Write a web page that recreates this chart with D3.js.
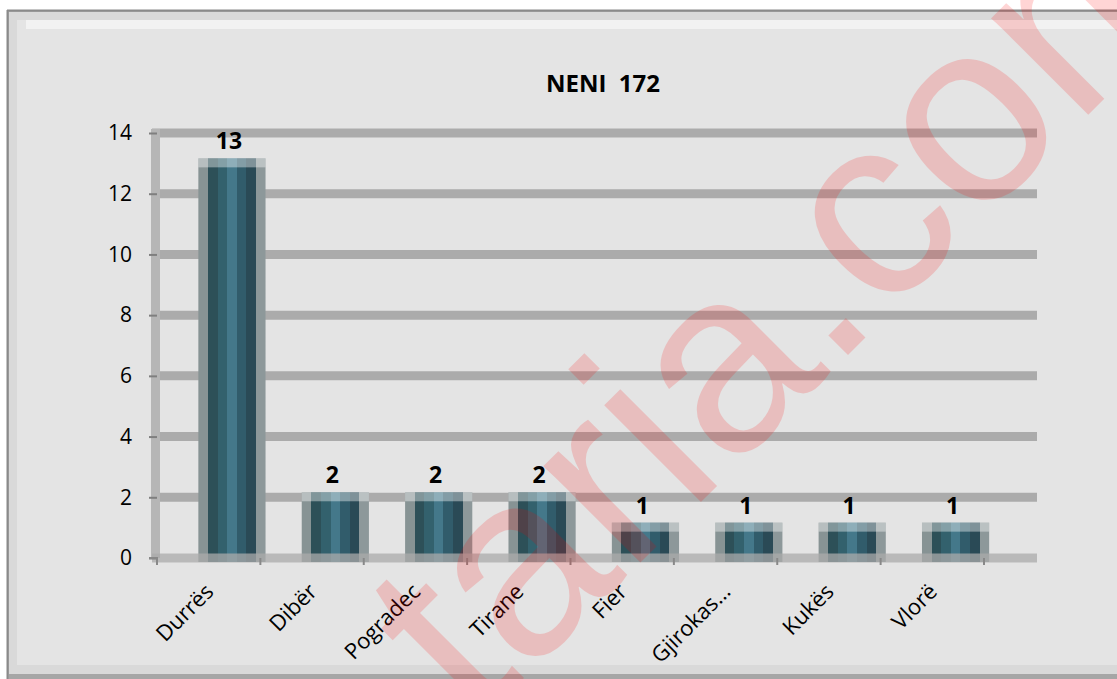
<!DOCTYPE html>
<html>
<head>
<meta charset="utf-8">
<script src="https://cdn.jsdelivr.net/npm/d3@7"></script>
<style>
  body { margin: 0; background: #fff; }
  svg text { font-family: "Open Sans", sans-serif; }
</style>
</head>
<body>
<svg id="chart" width="1117" height="679"></svg>
<script>
// data
const categories = ["Durrës", "Dibër", "Pogradec", "Tirane", "Fier", "Gjirokas…", "Kukës", "Vlorë"];
const values = [13, 2, 2, 2, 1, 1, 1, 1];
const yTicks = [0, 2, 4, 6, 8, 10, 12, 14];
const title = "NENI\u00a0\u00a0172";

const svg = d3.select("#chart");

// frame
svg.append("rect").attr("x", 7).attr("y", 10).attr("width", 1110).attr("height", 669).attr("fill", "#a6a6a6");
svg.append("rect").attr("x", 9).attr("y", 12).attr("width", 1108).attr("height", 662).attr("fill", "#d9d9d9");
svg.append("rect").attr("x", 17).attr("y", 20).attr("width", 1100).attr("height", 645).attr("fill", "#e4e4e4");
svg.append("rect").attr("x", 26).attr("y", 20).attr("width", 1091).attr("height", 9).attr("fill", "#f2f2f2");
svg.append("line").attr("x1", 7).attr("x2", 1117).attr("y1", 10.5).attr("y2", 10.5).attr("stroke", "#8a8a8a").attr("stroke-width", 2);
svg.append("line").attr("x1", 7.5).attr("x2", 7.5).attr("y1", 10).attr("y2", 679).attr("stroke", "#8a8a8a").attr("stroke-width", 2);

// bar gradient (the picture is blocky, 7 columns per bar)
const defs = svg.append("defs");
const grad = defs.append("linearGradient").attr("id", "barGrad");
const cols = ["#879394", "#2d5058", "#33616d", "#44788a", "#315c6b", "#2a4a56", "#8d989a"];
cols.forEach((c, i) => {
    grad.append("stop").attr("offset", i / 7).attr("stop-color", c);
    grad.append("stop").attr("offset", (i + 1) / 7).attr("stop-color", c);
});

const y = d3.scaleLinear().domain([0, 14]).range([558, 133]);
const x = d3.scaleBand().domain(categories).range([157, 984]);
const bw = x.bandwidth();
const barX = d => x(d) + bw * 0.40;
const barW = bw * 0.65;
const barMid = d => barX(d) + barW / 2;

// gridlines
svg.append("g").selectAll("line").data(yTicks.filter(t => t > 0)).join("line")
    .attr("x1", 152).attr("x2", 1037)
    .attr("y1", d => y(d)).attr("y2", d => y(d))
    .attr("stroke", "#ababab").attr("stroke-width", 9);

// y axis band
svg.append("line").attr("x1", 155.5).attr("x2", 155.5)
    .attr("y1", y(14) - 4).attr("y2", y(0))
    .attr("stroke", "#b6b6b6").attr("stroke-width", 9);

// bars
const bars = svg.append("g").selectAll("g").data(values).join("g");
bars.append("rect")
    .attr("x", (d, i) => barX(categories[i]))
    .attr("width", barW)
    .attr("y", d => y(d) - 5)
    .attr("height", d => y(0) - y(d) + 9)
    .attr("fill", "url(#barGrad)");
bars.append("rect")
    .attr("x", (d, i) => barX(categories[i]))
    .attr("width", barW)
    .attr("y", d => y(d) - 5)
    .attr("height", 9)
    .attr("fill", "#fff").attr("opacity", 0.4);

// zero line over the bars
svg.append("line").attr("x1", 152).attr("x2", 1037)
    .attr("y1", y(0)).attr("y2", y(0))
    .attr("stroke", "#ababab").attr("stroke-width", 9).attr("opacity", 0.75);

// y axis ticks and labels
const yAxis = svg.append("g").attr("transform", "translate(157,0)")
    .call(d3.axisLeft(y).tickValues(yTicks).tickSize(8).tickPadding(17));
yAxis.select(".domain").remove();
yAxis.selectAll(".tick line").attr("stroke", "#7f7f7f").attr("stroke-width", 2);
yAxis.selectAll(".tick text").attr("font-size", 21).attr("fill", "#000")
    .style("font-family", "'Open Sans', sans-serif");

// x ticks at band edges
svg.append("g").selectAll("line").data(categories).join("line")
    .attr("x1", d => x(d) + bw).attr("x2", d => x(d) + bw)
    .attr("y1", y(0)).attr("y2", y(0) + 7)
    .attr("stroke", "#888").attr("stroke-width", 2);
svg.append("path").attr("d", `M149,${y(0)}H157V${y(0) + 7}`)
    .attr("fill", "none").attr("stroke", "#888").attr("stroke-width", 2);

// x labels
svg.append("g").selectAll("text").data(categories).join("text")
    .attr("transform", d => `translate(${barMid(d) - 17},593) rotate(-45)`)
    .attr("text-anchor", "end")
    .attr("font-size", 22).attr("fill", "#000")
    .text(d => d);

// value labels
svg.append("g").selectAll("text").data(values).join("text")
    .attr("x", (d, i) => barMid(categories[i]) - 3)
    .attr("y", d => y(d) - 14)
    .attr("text-anchor", "middle")
    .attr("font-size", 23).attr("font-weight", "bold").attr("fill", "#000")
    .text(d => d);

// title
svg.append("text").attr("x", 603).attr("y", 92)
    .attr("text-anchor", "middle")
    .attr("font-size", 24).attr("font-weight", "bold")
    .text(title);

// watermark
svg.append("text")
    .attr("transform", "translate(475,728) rotate(-45)")
    .style("font-family", "'Liberation Sans', sans-serif")
    .attr("font-size", 259).attr("fill", "red").attr("opacity", 0.16)
    .text("taria.com");
</script>
</body>
</html>
